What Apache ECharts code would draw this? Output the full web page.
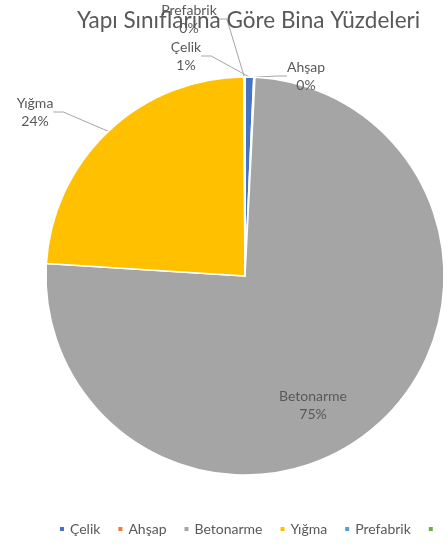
<!DOCTYPE html>
<html>
<head>
<meta charset="utf-8">
<script src="https://cdn.jsdelivr.net/npm/echarts@6/dist/echarts.min.js"></script>
<style>
  html, body { margin: 0; padding: 0; background: #fff; }
  #chart { width: 448px; height: 547px; }
</style>
</head>
<body>
<div id="chart"></div>
<script>
// Building classes and their share of the building stock (%)
const categories = ['Çelik', 'Ahşap', 'Betonarme', 'Yığma', 'Prefabrik', 'Diğer'];
const shares = [0.7, 0.1, 75.2, 23.9, 0.1, 0];
const colors = ['#4472C4', '#ED7D31', '#A5A5A5', '#FFC000', '#5B9BD5', '#70AD47'];
const titleText = 'Yapı Sınıflarına Göre Bina Yüzdeleri';

// Where each slice's label sits (label centre), keyed by category
const labelSpots = {
  'Çelik': [186, 56],
  'Ahşap': [306, 76],
  'Yığma': [35, 112],
  'Prefabrik': [189, 19],
  'Betonarme': [313, 405]
};

const font = 'Lato, "Open Sans", sans-serif';
const chart = echarts.init(document.getElementById('chart'));

const data = categories.map((name, i) => {
  const item = { name: name, value: shares[i], itemStyle: { color: colors[i] } };
  if (name === 'Betonarme') {
    item.label = { position: 'inside' };
    item.labelLine = { show: false };
  }
  if (name === 'Diğer') {
    item.label = { show: false };
    item.labelLine = { show: false };
  }
  return item;
});

chart.setOption({
  animation: false,
  backgroundColor: '#fff',
  title: {
    text: titleText,
    left: 72,
    top: 4,
    textStyle: { fontFamily: font, fontSize: 22.5, fontWeight: 'normal', color: '#595959' }
  },
  legend: {
    bottom: 6,
    left: 53,
    icon: 'rect',
    itemWidth: 6,
    itemHeight: 6,
    itemGap: 16,
    data: categories,
    formatter: n => (n === 'Diğer' ? '' : n),
    textStyle: { fontFamily: font, fontSize: 14, color: '#595959' }
  },
  series: [{
    type: 'pie',
    center: [245, 276],
    radius: [0, 199],
    startAngle: 90,
    clockwise: true,
    percentPrecision: 0,
    stillShowZeroSum: false,
    itemStyle: { borderColor: '#fff', borderWidth: 1.5 },
    label: {
      show: true,
      position: 'outside',
      formatter: '{b}\n{d}%',
      fontFamily: font,
      fontSize: 14,
      lineHeight: 18,
      color: '#595959',
      align: 'center'
    },
    labelLine: {
      show: true,
      length: 10,
      length2: 10,
      lineStyle: { color: '#A6A6A6', width: 1 }
    },
    labelLayout: function (p) {
      const spot = labelSpots[categories[p.dataIndex]];
      if (!spot) return {};
      return { x: spot[0], y: spot[1], align: 'center', verticalAlign: 'middle' };
    },
    data: data
  }]
});
</script>
</body>
</html>
